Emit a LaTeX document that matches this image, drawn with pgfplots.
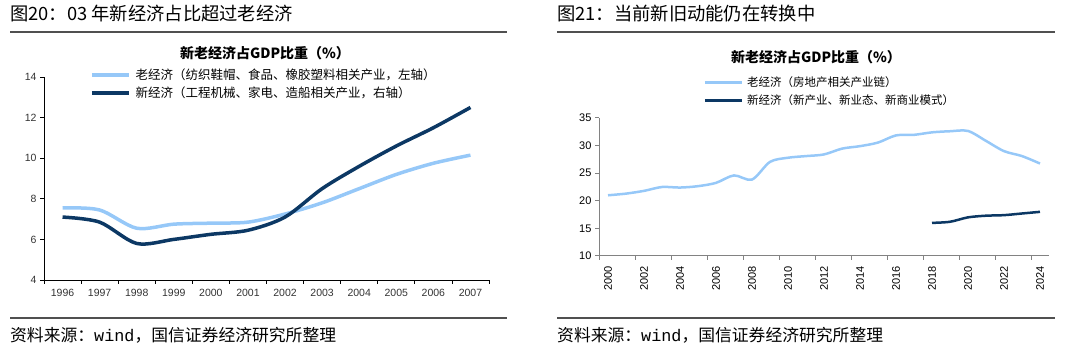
\documentclass[border=0pt]{standalone}
\usepackage{pgfplots}
\pgfplotsset{compat=1.18}
\usepackage{fontspec}
\setmainfont{Noto Sans CJK SC}
\newfontfamily\tickfont{Liberation Sans}
\newfontfamily\monofont{Liberation Mono}
\definecolor{oldc}{RGB}{150,200,248}
\definecolor{newc}{RGB}{12,56,100}
\definecolor{rulec}{RGB}{80,80,80}
\definecolor{axc}{RGB}{130,130,130}
\begin{document}
\begin{tikzpicture}[x=1pt,y=1pt]
\path[use as bounding box] (0pt,0pt) rectangle (1080pt,350pt);
% ---------- left panel texts ----------
\node[anchor=west,inner sep=0pt,font=\fontsize{18.3}{20}\selectfont] at (10pt,336pt) {图20：03 年新经济占比超过老经济};
\draw[rulec,line width=1.2pt] (10pt,318pt) -- (507pt,318pt);
\draw[rulec,line width=1.2pt] (10pt,32pt) -- (507pt,32pt);
\node[anchor=west,inner sep=0pt,font=\fontsize{16.8}{18}\selectfont] at (10pt,15pt) {资料来源：{\monofont wind}，国信证券经济研究所整理};
\node[inner sep=0pt,font=\fontsize{14}{16}\selectfont\bfseries] at (265pt,297pt) {新老经济占GDP比重（\%）};
% ---------- right panel texts ----------
\node[anchor=west,inner sep=0pt,font=\fontsize{18.3}{20}\selectfont] at (557pt,336pt) {图21：当前新旧动能仍在转换中};
\draw[rulec,line width=1.2pt] (557pt,318pt) -- (1055pt,318pt);
\draw[rulec,line width=1.2pt] (557pt,32pt) -- (1055pt,32pt);
\node[anchor=west,inner sep=0pt,font=\fontsize{16.8}{18}\selectfont] at (557pt,15pt) {资料来源：{\monofont wind}，国信证券经济研究所整理};
\node[inner sep=0pt,font=\fontsize{14}{16}\selectfont\bfseries] at (816pt,293pt) {新老经济占GDP比重（\%）};

% ---------- left axis ----------
\begin{axis}[
  at={(44pt,70pt)}, anchor=south west, scale only axis,
  width=445pt, height=203pt,
  xmin=-0.5, xmax=11.5, ymin=4, ymax=14,
  axis lines=left, axis line style={-, black, line width=0.8pt},
  xtick={0,...,11},
  xticklabels={1996,1997,1998,1999,2000,2001,2002,2003,2004,2005,2006,2007},
  major x tick style={draw=none},
  minor xtick={-0.5,0.5,...,11.5},
  minor x tick style={black, line width=0.8pt},
  minor tick length=4pt,
  ytick={4,6,...,14},
  y tick style={black, line width=0.8pt},
  major tick length=4pt,
  tick align=outside,
  tick label style={font=\tickfont\fontsize{10.5}{12}\selectfont, text=black!80},
  /pgf/number format/assume math mode=true,
  xticklabel style={yshift=-2pt},
  legend style={at={(0.103,1.05)}, anchor=north west, draw=none, fill=none,
    font=\fontsize{12.5}{14}\selectfont, row sep=1.5pt, inner sep=0pt},
  legend cell align=left,
  legend image code/.code={\draw[#1] (0pt,0pt) -- (37pt,0pt);},
]
\addplot[oldc, line width=3.5pt, smooth] coordinates {
(0,7.55) (1,7.45) (2,6.55) (3,6.75) (4,6.8) (5,6.85) (6,7.25) (7,7.8) (8,8.5) (9,9.2) (10,9.75) (11,10.15)};
\addlegendentry{\hspace{3pt}老经济（纺织鞋帽、食品、橡胶塑料相关产业，左轴）}
\addplot[newc, line width=3.5pt, smooth] coordinates {
(0,7.1) (1,6.85) (2,5.8) (3,6.0) (4,6.25) (5,6.45) (6,7.1) (7,8.5) (8,9.6) (9,10.6) (10,11.5) (11,12.5)};
\addlegendentry{\hspace{3pt}新经济（工程机械、家电、造船相关产业，右轴）}
\end{axis}

% ---------- right axis ----------
\begin{axis}[
  at={(599pt,94pt)}, anchor=south west, scale only axis,
  width=450pt, height=138pt,
  xmin=-0.5, xmax=24.5, ymin=10, ymax=35,
  axis lines=left, axis line style={-, axc, line width=1pt},
  xtick={0,2,...,24},
  xticklabels={2000,2002,2004,2006,2008,2010,2012,2014,2016,2018,2020,2022,2024},
  major x tick style={draw=none},
  minor xtick={-0.5,1.5,...,24.5},
  minor x tick style={axc, line width=1pt},
  minor tick length=4pt,
  ytick={10,15,...,35},
  y tick style={axc, line width=1pt},
  major tick length=4pt,
  tick align=outside,
  tick label style={font=\tickfont\fontsize{11}{12}\selectfont, text=black},
  /pgf/number format/assume math mode=true,
  /pgf/number format/1000 sep={},
  xticklabel style={rotate=90, anchor=east, xshift=-3pt},
  legend style={at={(0.232,1.315)}, anchor=north west, draw=none, fill=none,
    font=\fontsize{11.5}{13}\selectfont, row sep=3pt, inner sep=0pt},
  legend cell align=left,
  legend image code/.code={\draw[#1] (0pt,0pt) -- (37pt,0pt);},
]
\addplot[oldc, line width=2.5pt, smooth] coordinates {
(0,21.0) (1,21.3) (2,21.8) (3,22.5) (4,22.4) (5,22.65) (6,23.25) (7,24.6) (8,23.85) (9,27.05)
(10,27.8) (11,28.1) (12,28.4) (13,29.45) (14,29.9) (15,30.55) (16,31.85) (17,31.95) (18,32.4)
(19,32.6) (20,32.65) (21,30.85) (22,29.0) (23,28.1) (24,26.75)};
\addlegendentry{\hspace{2pt}老经济（房地产相关产业链）}
\addplot[newc, line width=2.5pt, smooth] coordinates {
(18,16.0) (19,16.2) (20,17.0) (21,17.3) (22,17.4) (23,17.7) (24,18.0)};
\addlegendentry{\hspace{2pt}新经济（新产业、新业态、新商业模式）}
\end{axis}
\end{tikzpicture}
\end{document}
